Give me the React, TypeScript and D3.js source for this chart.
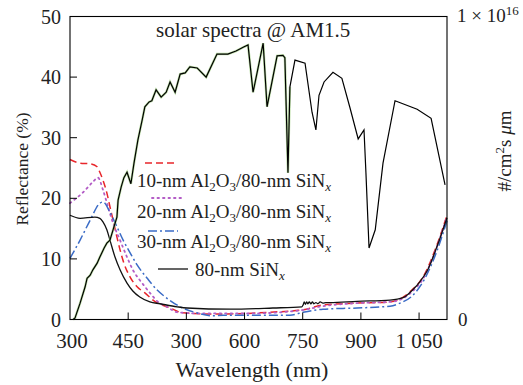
import React from 'react';
import * as d3 from 'd3';

const W = 523;
const H = 385;

// x tick positions (internal wavelength scale) and their printed labels
const xTickValues = [300, 450, 600, 750, 900, 1050, 1200];
const xTickLabels = ['300', '450', '300', '600', '750', '900', '1 050'];
const yTickValues = [0, 10, 20, 30, 40, 50];

// Solar spectrum AM1.5, photon flux in units of 1e14 #/cm^2 s um
const solarData: [number, number][] = [
  [308, 0], [313, 0.5], [326, 5.4], [339, 10.8], [344, 13.6], [352, 14.6], [359, 16.4], [370, 18.6],
  [377, 20.6], [388, 23.6], [395, 25.2], [403, 26.2], [411, 29.6], [421, 33.8], [424, 39.4],
  [432, 43.8], [439, 46.8], [447, 48.6], [457, 44.8], [465, 51.6], [475, 59.2], [486, 65.8],
  [493, 70.2], [504, 71.8], [511, 72.2], [522, 75.8], [535, 73.4], [548, 75.0], [558, 78.4],
  [571, 75.0], [584, 81.0], [597, 81.4], [609, 83.4], [628, 83.0], [651, 80.0], [679, 87.6],
  [707, 87.6], [728, 88.6], [749, 90.0], [759, 90.6], [772, 75.0], [798, 91.2], [808, 70.2],
  [834, 87.0], [849, 87.2], [854, 86.4], [862, 48.4], [867, 76.8], [880, 85.6], [906, 84.6],
  [924, 68.4], [934, 62.6], [942, 74.0], [955, 78.4], [978, 81.6], [1001, 79.6], [1022, 69.8],
  [1043, 59.6], [1058, 62.6], [1063, 48.4], [1071, 23.6], [1087, 29.6], [1107, 51.6],
  [1138, 72.2], [1195, 69.4], [1231, 66.4], [1267, 44.4],
];

// Reflectance (%)
const r10nm: [number, number][] = [
  [300, 26.4], [326, 25.8], [352, 25.7], [370, 25.2], [377, 24.3], [385, 23.0], [395, 20.9],
  [403, 18.6], [411, 16.4], [421, 13.6], [429, 11.5], [439, 9.3], [455, 7.0], [473, 5.4],
  [493, 4.4], [514, 3.2], [558, 1.9], [591, 1.1], [669, 0.9], [756, 1.0], [816, 1.2], [901, 1.6],
  [952, 2.4], [1040, 2.7], [1125, 2.9], [1159, 3.7], [1182, 4.9], [1210, 7.0], [1246, 12.3], [1272, 17.2],
];
const r20nm: [number, number][] = [
  [300, 19.2], [334, 21.0], [359, 22.7], [372, 23.4], [385, 21.4], [398, 18.6], [411, 15.9],
  [429, 13.1], [447, 10.3], [462, 8.2], [486, 6.0], [506, 4.4], [527, 2.9], [550, 2.1], [576, 1.2],
  [635, 1.0], [764, 1.0], [893, 1.5], [952, 2.2], [1040, 2.7], [1125, 2.9], [1159, 3.5], [1182, 4.6],
  [1210, 6.7], [1246, 12.0], [1272, 17.0],
];
const r30nm: [number, number][] = [
  [300, 10.1], [326, 13.1], [352, 16.4], [377, 19.2], [385, 19.4], [403, 17.7], [421, 15.3],
  [437, 13.1], [455, 11.0], [473, 9.0], [499, 6.8], [524, 4.9], [550, 3.5], [584, 2.1], [627, 1.1],
  [669, 0.6], [695, 0.7], [867, 0.7], [901, 1.2], [952, 1.7], [1040, 1.9], [1125, 2.2], [1151, 2.7],
  [1184, 4.0], [1210, 6.2], [1246, 11.3], [1272, 16.3],
];
const rSiN: [number, number][] = [
  [300, 17.2], [326, 16.7], [364, 16.9], [377, 16.7], [385, 16.1], [395, 14.8], [403, 13.1],
  [416, 10.3], [429, 8.2], [447, 6.0], [462, 4.7], [480, 3.7], [506, 2.9], [532, 2.6], [576, 2.1],
  [602, 1.9], [713, 1.7], [823, 1.9], [898, 2.1], [901, 2.4], [904, 2.9], [907, 2.5], [910, 2.9],
  [913, 2.6], [917, 2.9], [921, 2.6], [925, 2.9], [929, 2.6], [934, 2.8], [939, 2.6], [945, 2.9],
  [952, 2.7], [960, 2.8], [970, 2.8], [1040, 3.0], [1125, 3.2], [1159, 3.6], [1182, 4.8],
  [1203, 6.3], [1223, 8.3], [1246, 12.0], [1272, 16.8],
];

const TS: React.CSSProperties = { fontFamily: "'Liberation Serif'" };

const left = 70, right = 447, top = 16.5, bottom = 319.5;

export default function App() {
  const x = d3.scaleLinear().domain([300, 1272]).range([left, right]);
  const y = d3.scaleLinear().domain([0, 50]).range([bottom, top]);
  const yR = d3.scaleLinear().domain([0, 100]).range([bottom, top]);

  const reflLine = d3.line<[number, number]>().x(d => x(d[0])).y(d => y(d[1])).curve(d3.curveMonotoneX);
  const solarLine = d3.line<[number, number]>().x(d => x(d[0])).y(d => yR(d[1]));
  const solarGreen = solarData.filter(d => d[0] <= 870);

  const series = [
    { data: r10nm, color: '#e8262b', dash: '7,4', width: 1.5 },
    { data: r20nm, color: '#b35cc6', dash: '1.5,4', width: 1.8 },
    { data: r30nm, color: '#3a6bc6', dash: '9,3,2,3', width: 1.5 },
    { data: rSiN, color: '#111', dash: undefined as string | undefined, width: 1.3 },
  ];

  const sub = (t: string, italic = false) => (
    <tspan fontSize={13} dy={4} style={{ ...TS, fontStyle: italic ? 'italic' : 'normal' }}>{t}</tspan>
  );

  return (
    <svg width={W} height={H} style={{ position: 'absolute', left: 0, top: 0, background: '#fff' }}>
      <rect x={0} y={0} width={W} height={H} fill="#fff" />
      {/* reflectance curves */}
      {series.map((s, i) => (
        <path key={i} d={reflLine(s.data) || ''} fill="none" stroke={s.color} strokeWidth={s.width}
          strokeDasharray={s.dash} strokeLinecap={i === 1 ? 'round' : 'butt'} />
      ))}
      {/* solar spectrum */}
      <path d={solarLine(solarGreen) || ''} fill="none" stroke="#8fc86a" strokeWidth={2.4} strokeOpacity={0.6} />
      <path d={solarLine(solarData) || ''} fill="none" stroke="#000" strokeWidth={1.2} strokeLinejoin="miter" />

      {/* frame */}
      <rect x={left} y={top} width={right - left} height={bottom - top} fill="none" stroke="#000" strokeWidth={1.1} />
      {/* y ticks */}
      {yTickValues.map(v => (
        <g key={v}>
          <line x1={left} x2={left + 7} y1={y(v)} y2={y(v)} stroke="#000" strokeWidth={1} />
          <text x={61} y={y(v)} dy="0.35em" textAnchor="end" fontSize={20} fill="#222" style={TS}>{v}</text>
        </g>
      ))}
      {/* x ticks */}
      {xTickValues.map((v, i) => (
        <g key={v}>
          {i > 0 && <line x1={x(v)} x2={x(v)} y1={bottom} y2={bottom - 7} stroke="#000" strokeWidth={1} />}
          <text x={x(v) + (i === 0 ? 2 : 0)} y={348} textAnchor="middle" fontSize={21} fill="#222" style={TS}>{xTickLabels[i]}</text>
        </g>
      ))}
      {/* right axis labels */}
      <text x={457} y={22} fontSize={19} fill="#222" style={TS}>1 × 10<tspan fontSize={13} dy={-7}>16</tspan></text>
      <text x={458} y={yR(0)} dy="0.35em" fontSize={19} fill="#222" style={TS}>0</text>

      {/* axis titles */}
      <text x={252} y={377} textAnchor="middle" fontSize={22} fill="#222" style={TS}>Wavelength (nm)</text>
      <text transform="translate(28,169) rotate(-90)" textAnchor="middle" fontSize={17.5} fill="#222" style={TS}>Reflectance (%)</text>
      <text transform="translate(511,151) rotate(-90)" textAnchor="middle" fontSize={19} fill="#222" style={TS}>
        #/cm<tspan fontSize={13} dy={-7}>2</tspan><tspan dy={7}>s </tspan><tspan style={{ ...TS, fontStyle: 'italic' }}>μ</tspan>m
      </text>

      {/* annotation */}
      <text x={156} y={37} fontSize={21} fill="#222" style={TS}>solar spectra @ AM1.5</text>

      {/* legend */}
      <line x1={145} x2={178} y1={163} y2={163} stroke={series[0].color} strokeWidth={1.5} strokeDasharray="7,4" />
      <line x1={152} x2={184} y1={198} y2={198} stroke={series[1].color} strokeWidth={1.8} strokeDasharray="1.5,4" strokeLinecap="round" />
      <line x1={148} x2={178} y1={231} y2={231} stroke={series[2].color} strokeWidth={1.5} strokeDasharray="9,3,2,3" />
      <line x1={158} x2={188} y1={269} y2={269} stroke="#111" strokeWidth={1.3} />
      {['10', '20', '30'].map((n, i) => (
        <text key={n} x={137} y={[187, 218, 248][i]} fontSize={19} fill="#222" style={TS}>
          {n}-nm Al{sub('2')}<tspan dy={-4}>O</tspan>{sub('3')}<tspan dy={-4}>/80-nm SiN</tspan>{sub('x', true)}
        </text>
      ))}
      <text x={195} y={276} fontSize={19} fill="#222" style={TS}>
        80-nm SiN{sub('x', true)}
      </text>
    </svg>
  );
}
